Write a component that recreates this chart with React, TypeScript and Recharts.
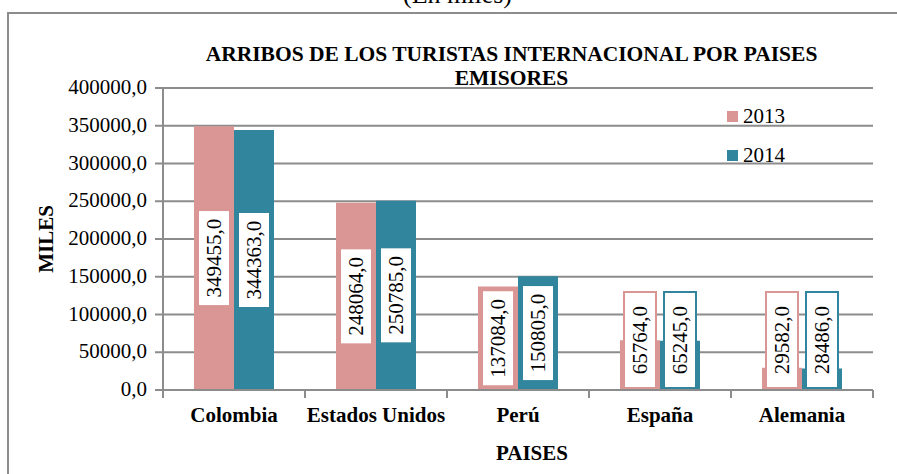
import React from 'react';
import { BarChart, Bar, XAxis, YAxis, CartesianGrid, LabelList, Legend } from 'recharts';

const countries = ['Colombia', 'Estados Unidos', 'Perú', 'España', 'Alemania'];
const values2013 = [349455, 248064, 137084, 65764, 29582];
const values2014 = [344363, 250785, 150805, 65245, 28486];
const yTicks = [0, 50000, 100000, 150000, 200000, 250000, 300000, 350000, 400000];
const seriesNames = ['2013', '2014'];
const seriesColors = ['#D99694', '#31859C'];
const titleLines = ['ARRIBOS DE LOS TURISTAS INTERNACIONAL POR PAISES', 'EMISORES'];
const subtitle = '(En miles)';
const xTitle = 'PAISES';
const yTitle = 'MILES';

const data = countries.map((c, i) => ({ country: c, y2013: values2013[i], y2014: values2014[i] }));

const FONT = '"Liberation Serif", "Times New Roman", serif';
const GRAY = '#8c8c8c';
const fmt = (v: number) => Number(v).toFixed(1).replace('.', ',');

const makeLabel = (color: string) => (props: any) => {
  const x = Number(props.x), y = Number(props.y), w = Number(props.width), h = Number(props.height);
  const bw = 32, bh = 96;
  const cx = x + w / 2;
  let cy = y + h / 2;
  const bottomLimit = y + h - 2;
  if (cy + bh / 2 > bottomLimit) cy = bottomLimit - bh / 2;
  return (
    <g>
      <rect x={cx - bw / 2} y={cy - bh / 2} width={bw} height={bh} fill="#fff" stroke={color} strokeWidth={2} />
      <text
        transform={`translate(${cx},${cy}) rotate(-90)`}
        textAnchor="middle"
        dominantBaseline="central"
        fontFamily={FONT}
        fontSize={21}
        fill="#000"
        style={{ fontFamily: FONT }}
      >
        {fmt(props.value)}
      </text>
    </g>
  );
};

const XTick = (props: any) => {
  const { x, y, payload, index, visibleTicksCount, width } = props;
  const n = visibleTicksCount || countries.length;
  const bw = (Number(width) || 710) / n;
  const axisY = y - 17;
  return (
    <g>
      <line x1={x - bw / 2} x2={x - bw / 2} y1={axisY} y2={axisY + 8} stroke={GRAY} strokeWidth={2} />
      {index === n - 1 && (
        <line x1={x + bw / 2} x2={x + bw / 2} y1={axisY} y2={axisY + 8} stroke={GRAY} strokeWidth={2} />
      )}
      <text x={x} y={y + 15} textAnchor="middle" fontFamily={FONT} fontSize={21} fontWeight="bold" fill="#000" style={{ fontFamily: FONT }}>
        {payload.value}
      </text>
    </g>
  );
};

const YTick = (props: any) => {
  const { x, y, payload } = props;
  return (
    <text x={x} y={y} dy={6} textAnchor="end" fontFamily={FONT} fontSize={21} fill="#000" style={{ fontFamily: FONT }}>
      {fmt(payload.value)}
    </text>
  );
};

const LegendContent = () => (
  <div style={{ fontFamily: FONT, fontSize: 21, color: '#000' }}>
    {seriesNames.map((n, i) => (
      <div key={n} style={{ display: 'flex', alignItems: 'center', height: 39 }}>
        <span style={{ display: 'inline-block', width: 11, height: 11, background: seriesColors[i], marginRight: 5 }} />
        <span>{n}</span>
      </div>
    ))}
  </div>
);

export default function App() {
  return (
    <div style={{ position: 'absolute', left: 0, top: 0, width: 897, height: 474, overflow: 'hidden', background: '#fff', fontFamily: FONT }}>
      <div style={{ position: 'absolute', left: 7, top: 12, width: 1000, height: 1000, border: `2px solid ${GRAY}` }} />
      <div style={{ position: 'absolute', left: 403, top: -18, fontSize: 26, lineHeight: '26px', whiteSpace: 'nowrap', color: '#000' }}>
        {subtitle}
      </div>
      <div style={{ position: 'absolute', left: 111.5, top: 42, width: 800, textAlign: 'center', fontSize: 21.5, lineHeight: '24px', fontWeight: 'bold', color: '#000' }}>
        {titleLines[0]}
        <br />
        {titleLines[1]}
      </div>
      <div style={{ position: 'absolute', left: 0, top: 0 }}>
        <BarChart width={897} height={474} data={data} margin={{ top: 88, right: 24, bottom: 44, left: 63 }} barGap={0} barSize={40}>
          <CartesianGrid yAxisId="l" horizontal vertical={false} stroke={GRAY} strokeWidth={2} />
          <XAxis
            dataKey="country"
            height={40}
            axisLine={{ stroke: GRAY, strokeWidth: 2 }}
            tickLine={false}
            tickSize={8}
            tickMargin={9}
            tick={<XTick />}
            interval={0}
            label={{
              content: (p: any) => {
                const vb = p.viewBox || { x: 163, y: 390, width: 710 };
                return (
                  <text x={vb.x + vb.width / 2 + 14} y={vb.y + 70} textAnchor="middle" fontFamily={FONT} fontSize={21} fontWeight="bold" fill="#000" style={{ fontFamily: FONT }}>
                    {xTitle}
                  </text>
                );
              },
            }}
          />
          <YAxis
            yAxisId="l"
            width={100}
            domain={[0, 400000]}
            ticks={yTicks}
            interval={0}
            axisLine={{ stroke: GRAY, strokeWidth: 2 }}
            tickLine={{ stroke: GRAY, strokeWidth: 2 }}
            tickSize={8}
            tickMargin={8}
            tick={<YTick />}
            label={{
              content: (p: any) => {
                const vb = p.viewBox || { x: 63, y: 88, height: 302 };
                const cx = vb.x - 17;
                const cy = vb.y + vb.height / 2;
                return (
                  <text transform={`translate(${cx},${cy}) rotate(-90)`} textAnchor="middle" dominantBaseline="central" fontFamily={FONT} fontSize={21} fontWeight="bold" fill="#000" style={{ fontFamily: FONT }}>
                    {yTitle}
                  </text>
                );
              },
            }}
          />
          <YAxis yAxisId="r" orientation="right" width={0} domain={[0, 400000]} ticks={yTicks} tick={false} tickLine={false} axisLine={{ stroke: GRAY, strokeWidth: 2 }} />
          <Legend
            layout="vertical"
            align="center"
            verticalAlign="middle"
            content={<LegendContent />}
            wrapperStyle={{ position: 'absolute', left: 727, top: 97, width: 80, height: 78 }}
          />
          <Bar yAxisId="l" dataKey="y2013" name={seriesNames[0]} fill={seriesColors[0]} isAnimationActive={false}>
            <LabelList dataKey="y2013" content={makeLabel(seriesColors[0])} />
          </Bar>
          <Bar yAxisId="l" dataKey="y2014" name={seriesNames[1]} fill={seriesColors[1]} isAnimationActive={false}>
            <LabelList dataKey="y2014" content={makeLabel(seriesColors[1])} />
          </Bar>
        </BarChart>
      </div>
    </div>
  );
}
